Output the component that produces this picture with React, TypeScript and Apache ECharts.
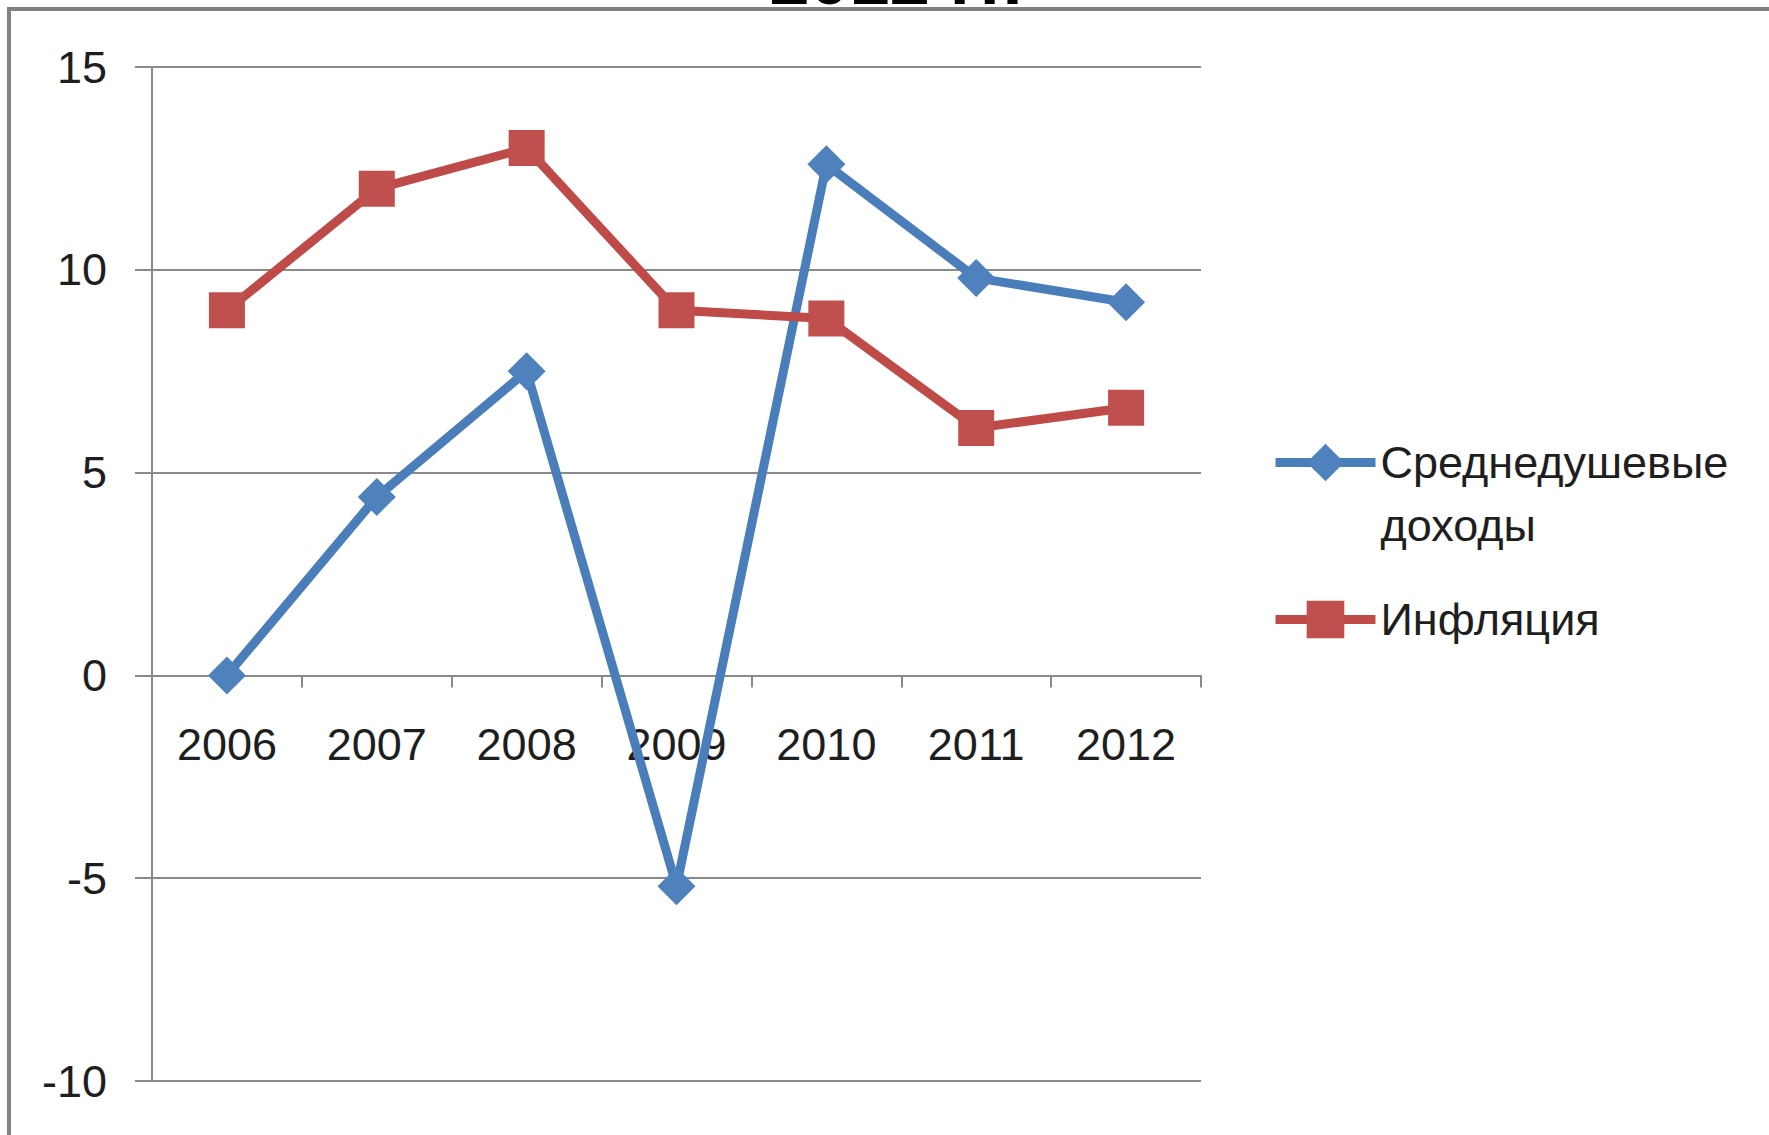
import React, { useEffect, useRef } from "react";
import * as echarts from "echarts";

const years = ["2006", "2007", "2008", "2009", "2010", "2011", "2012"];
const incomeName = "Среднедушевые доходы";
const inflationName = "Инфляция";
const incomeValues = [0, 4.4, 7.5, -5.2, 12.6, 9.8, 9.2];
const inflationValues = [9.0, 12.0, 13.0, 9.0, 8.8, 6.1, 6.6];
const yMin = -10;
const yMax = 15;
const yStep = 5;
const titleText = "2012 гг.";

export default function App() {
  const ref = useRef<HTMLDivElement>(null);
  useEffect(() => {
    if (!ref.current) return;
    const chart = echarts.init(ref.current, undefined, { renderer: "svg" });
    const font = "Liberation Sans";
    const textColor = "#1e1e1e";
    const gridColor = "#8a8a8a";
    const gridTop = 67;
    const gridBottom = 54;
    const plotH = 1135 - gridTop - gridBottom;
    // distance from the plot bottom up to the zero line
    const zeroOffset = (plotH * (0 - yMin)) / (yMax - yMin);
    chart.setOption({
      animation: false,
      backgroundColor: "#ffffff",
      textStyle: { fontFamily: font },
      grid: {
        left: 152,
        right: 568,
        top: gridTop,
        bottom: gridBottom,
        containLabel: false,
        outerBoundsMode: "none",
      },
      xAxis: {
        type: "category",
        data: years,
        boundaryGap: true,
        position: "bottom",
        offset: -zeroOffset,
        axisLine: { onZero: false, lineStyle: { color: gridColor, width: 2 } },
        axisTick: { show: true, length: 12, inside: false, lineStyle: { color: gridColor, width: 2 } },
        axisLabel: { fontSize: 45, color: textColor, margin: 47, fontFamily: font },
        splitLine: { show: false },
      },
      yAxis: {
        type: "value",
        min: yMin,
        max: yMax,
        interval: yStep,
        axisLine: { show: true, lineStyle: { color: gridColor, width: 2 } },
        axisTick: { show: true, length: 17, lineStyle: { color: gridColor, width: 2 } },
        axisLabel: { fontSize: 45, color: textColor, margin: 45, fontFamily: font },
        splitLine: { show: true, lineStyle: { color: gridColor, width: 2 } },
      },
      legend: [
        {
          data: [incomeName],
          left: 1271,
          top: 368,
          padding: 0,
          itemWidth: 100,
          itemHeight: 47,
          lineStyle: { width: 9 },
          formatter: () => "\nСреднедушевые\nдоходы",
          textStyle: { fontSize: 45, lineHeight: 63, color: textColor, fontFamily: font },
        },
        {
          data: [inflationName],
          left: 1271,
          top: 597,
          padding: 0,
          itemWidth: 100,
          itemHeight: 47,
          lineStyle: { width: 9 },
          textStyle: { fontSize: 45, color: textColor, fontFamily: font },
        },
      ],
      graphic: [
        {
          type: "text",
          x: 896,
          y: -21,
          style: {
            text: titleText,
            x: 0,
            y: 0,
            fill: "#000",
            font: "bold 72px 'Liberation Sans'",
            textAlign: "center",
            textVerticalAlign: "middle",
          },
        },
        {
          type: "rect",
          shape: { x: 9, y: 9, width: 1900, height: 1300 },
          style: { fill: "none", stroke: "#828282", lineWidth: 4 },
          silent: true,
        },
      ],
      series: [
        {
          name: incomeName,
          type: "line",
          data: incomeValues,
          symbol: "diamond",
          symbolSize: 38,
          lineStyle: { color: "#4A7EBB", width: 9 },
          itemStyle: { color: "#4F81BD" },
        },
        {
          name: inflationName,
          type: "line",
          data: inflationValues,
          symbol: "rect",
          symbolSize: 36,
          lineStyle: { color: "#BE4B48", width: 9 },
          itemStyle: { color: "#C0504D" },
        },
      ],
    });
    return () => chart.dispose();
  }, []);
  return (
    <div
      ref={ref}
      style={{ position: "absolute", left: 0, top: 0, width: 1769, height: 1135 }}
    />
  );
}
